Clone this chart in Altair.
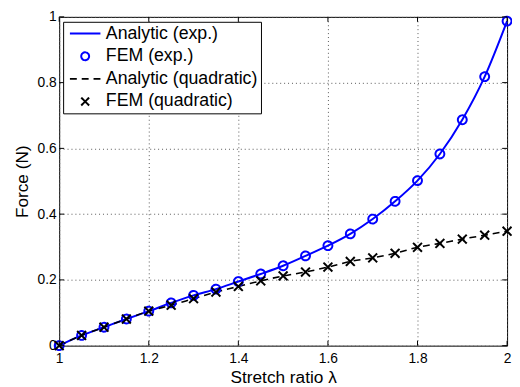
import altair as alt
import pandas as pd

# ---- data ----
stretch = [1.00, 1.05, 1.10, 1.15, 1.20, 1.25, 1.30, 1.35, 1.40, 1.45, 1.50,
           1.55, 1.60, 1.65, 1.70, 1.75, 1.80, 1.85, 1.90, 1.95, 2.00]
force_exp = [0.000, 0.031, 0.056, 0.081, 0.105, 0.130, 0.153, 0.172, 0.195, 0.218, 0.243,
             0.273, 0.304, 0.340, 0.385, 0.439, 0.502, 0.583, 0.687, 0.818, 0.987]
force_quad = [0.000, 0.031, 0.056, 0.081, 0.105, 0.123, 0.143, 0.163, 0.180, 0.197, 0.212,
              0.224, 0.239, 0.256, 0.267, 0.281, 0.299, 0.311, 0.324, 0.336, 0.348]

series_names = ["Analytic (exp.)", "FEM (exp.)", "Analytic (quadratic)", "FEM (quadratic)"]
series_colors = ["#0000ff", "#0000ff", "#000000", "#000000"]
series_shapes = ["M-3.875,0L3.875,0", "circle", "M-3.875,0L3.875,0", "M-1,-1L1,1M-1,1L1,-1"]
series_dashes = [[1, 0], [1, 0], [7, 5], [1, 0]]

x_ticks = [1.0, 1.2, 1.4, 1.6, 1.8, 2.0]
y_ticks = [0.0, 0.2, 0.4, 0.6, 0.8, 1.0]

W, H = 455, 334
FONT = "Liberation Sans, Arial, Helvetica, sans-serif"

analytic = pd.DataFrame({
    "x": stretch * 2,
    "y": force_exp + force_quad,
    "series": [series_names[0]] * len(stretch) + [series_names[2]] * len(stretch),
})
fem = pd.DataFrame({
    "x": stretch * 2,
    "y": force_exp + force_quad,
    "series": [series_names[1]] * len(stretch) + [series_names[3]] * len(stretch),
})
xt = pd.DataFrame({"x": x_ticks})
yt = pd.DataFrame({"y": y_ticks})

xscale = alt.Scale(domain=[1, 2], nice=False, zero=False)
yscale = alt.Scale(domain=[0, 1], nice=False)
color_scale = alt.Scale(domain=series_names, range=series_colors)
shape_scale = alt.Scale(domain=series_names, range=series_shapes)
dash_scale = alt.Scale(domain=series_names, range=series_dashes)

legend = alt.Legend(
    title=None, orient="none", legendX=4, legendY=5,
    fillColor="white", strokeColor="black", padding=3, cornerRadius=0,
    labelFont=FONT, labelFontSize=18, labelColor="black",
    symbolSize=64, symbolStrokeWidth=2, symbolOffset=10.4, labelOffset=12,
    rowPadding=5,
)

x_axis = alt.Axis(values=x_ticks, format="~g", title="Stretch ratio λ")
y_axis = alt.Axis(values=y_ticks, format="~g", title="Force (N)")

X = alt.X("x:Q", scale=xscale, axis=x_axis)
Y = alt.Y("y:Q", scale=yscale, axis=y_axis)

line_exp = alt.Chart(analytic).transform_filter(
    alt.datum.series == series_names[0]
).mark_line(strokeWidth=2, color=series_colors[0], interpolate="monotone").encode(x=X, y=Y)

line_quad = alt.Chart(analytic).transform_filter(
    alt.datum.series == series_names[2]
).mark_line(strokeWidth=1.6, color=series_colors[2], strokeDash=series_dashes[2],
            interpolate="monotone").encode(x=X, y=Y)

points = alt.Chart(fem).mark_point(filled=False, strokeWidth=2, size=81, opacity=1).encode(
    x=X, y=Y,
    color=alt.Color("series:N", scale=color_scale, legend=legend),
    shape=alt.Shape("series:N", scale=shape_scale, legend=legend),
    strokeDash=alt.StrokeDash("series:N", scale=dash_scale, legend=legend),
)

tick_len = 5
ticks_bottom = alt.Chart(xt).mark_rule(color="black", strokeWidth=1).encode(
    x=X, y=alt.value(H), y2=alt.value(H - tick_len))
ticks_top = alt.Chart(xt).mark_rule(color="black", strokeWidth=1).encode(
    x=X, y=alt.value(0), y2=alt.value(tick_len))
ticks_left = alt.Chart(yt).mark_rule(color="black", strokeWidth=1).encode(
    y=Y, x=alt.value(0), x2=alt.value(tick_len))
ticks_right = alt.Chart(yt).mark_rule(color="black", strokeWidth=1).encode(
    y=Y, x=alt.value(W), x2=alt.value(W - tick_len))

chart = alt.layer(line_exp, line_quad, points, ticks_bottom, ticks_top, ticks_left, ticks_right).properties(
    width=W, height=H,
    padding={"left": 52, "top": 6, "right": 5, "bottom": 39},
    autosize=alt.AutoSizeParams(type="none"),
    background="white",
).configure_view(
    stroke="black", strokeWidth=1
).configure_axis(
    domain=False, ticks=False,
    grid=True, gridColor="#555555", gridDash=[1, 3], gridWidth=1, gridOpacity=1,
    labelFont=FONT, labelFontSize=14, labelColor="black",
    titleFont=FONT, titleFontSize=17.5, titleFontWeight="normal", titleColor="black",
).configure_axisX(
    labelPadding=6, titlePadding=3, labelFlush=False
).configure_axisY(
    labelPadding=3, titlePadding=6, labelFlush=False
)

chart.save("out.html", embed_options={"renderer": "svg", "actions": False})
